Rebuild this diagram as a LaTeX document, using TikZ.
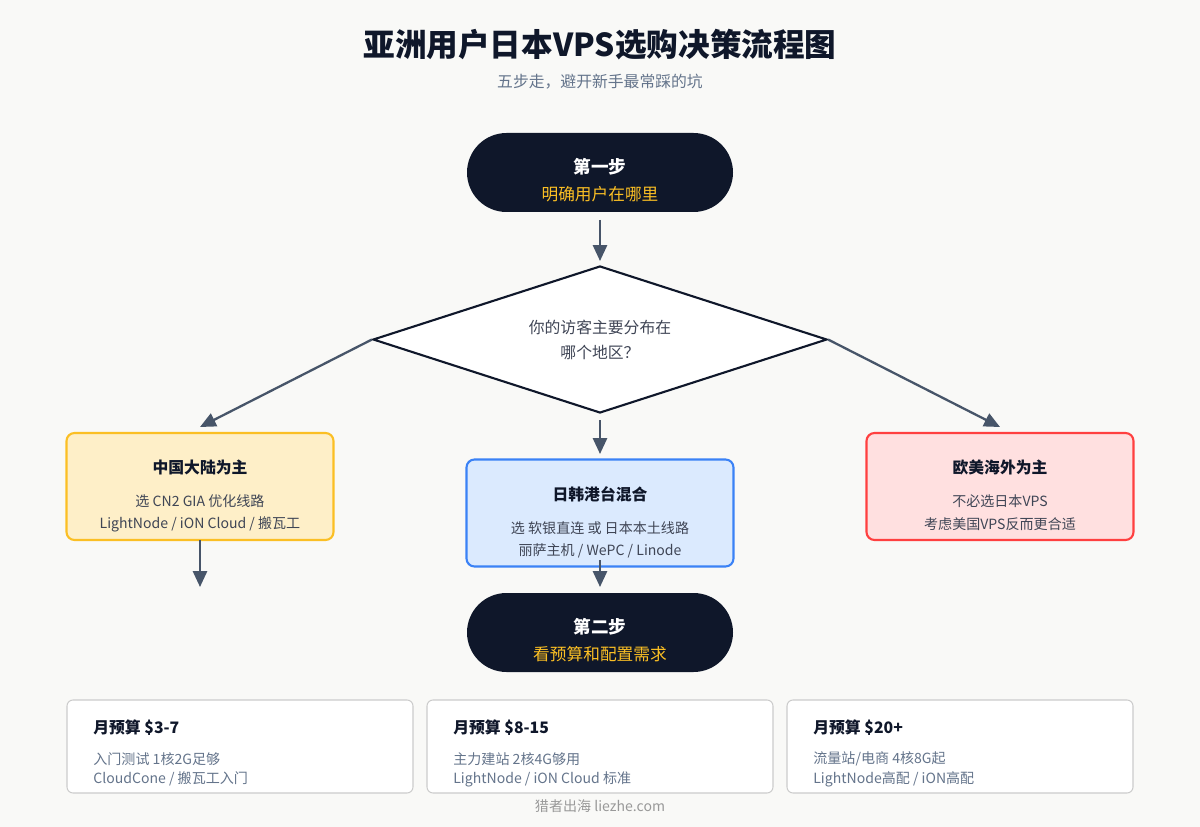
\documentclass[tikz,border=0pt]{standalone}
\usepackage{fontspec}
\setmainfont{Noto Sans CJK SC}
\usetikzlibrary{positioning, calc}
\usetikzlibrary{arrows.meta}
\usetikzlibrary{shapes}
\definecolor{navy}{HTML}{0F172A}
\definecolor{slate}{HTML}{475569}
\definecolor{muted}{HTML}{64748B}
\definecolor{amber}{HTML}{FBBF24}
\definecolor{skyfill}{HTML}{DBEAFE}
\definecolor{skyline}{HTML}{3B82F6}
\definecolor{bgpaper}{HTML}{F9F9F7}
\begin{document}
\begin{tikzpicture}[x=0.02cm,y=-0.02cm]
	\tikzstyle{pill}=[rounded corners=39.5*0.02cm,fill=navy,minimum width=266*0.02cm,minimum height=79*0.02cm]
	\tikzstyle{box}=[rounded corners=8*0.02cm,line width=1.2pt,minimum width=267*0.02cm,minimum height=107*0.02cm]
	\tikzstyle{card}=[rounded corners=6*0.02cm,draw=black!20,fill=white,line width=0.6pt,minimum width=346*0.02cm,minimum height=93*0.02cm]
	\tikzstyle{flow}=[-{Triangle[length=9pt,width=8pt]},draw=slate,line width=1.3pt]
	\tikzstyle{txt}=[font=\fontsize{8}{10}\selectfont,text=navy!80]
	\tikzstyle{hd}=[font=\fontsize{9}{11}\selectfont\bfseries,text=navy]
	\tikzstyle{sub}=[font=\fontsize{8}{10}\selectfont,text=muted,anchor=west,inner sep=0pt]

	\fill[bgpaper] (0,0) rectangle (1200,827);

	% title
	\node[font=\fontsize{18}{22}\selectfont\bfseries,text=navy] (title) at (600,45) {亚洲用户日本VPS选购决策流程图};
	\node[font=\fontsize{9}{11}\selectfont,text=muted] (subtitle) at (600,82) {五步走，避开新手最常踩的坑};

	% step one
	\node[pill] (s1) at (600,172.5) {};
	\node[hd,text=white,font=\fontsize{10}{12}\selectfont\bfseries] (s1a) at (600,167) {第一步};
	\node[txt,text=amber,font=\fontsize{9.5}{12}\selectfont] (s1b) at (600,194) {明确用户在哪里};

	% question
	\node[diamond,draw=navy,fill=white,line width=1.2pt,minimum width=454*0.02cm,minimum height=147*0.02cm,inner sep=0pt] (q) at (600,339.5) {};
	\node[txt,align=center,font=\fontsize{9}{14}\selectfont] (qt) at (600,340) {你的访客主要分布在\\哪个地区？};

	% regions
	\node[box,draw=amber,fill=amber!25] (cn) at (200,486.5) {};
	\node[hd] (cna) at (200,467) {中国大陆为主};
	\node[txt] (cnb) at (200,501) {选 CN2 GIA 优化线路};
	\node[txt] (cnc) at (200,524) {LightNode / iON Cloud / 搬瓦工};

	\node[box,draw=skyline,fill=skyfill] (jp) at (600,513) {};
	\node[hd] (jpa) at (600,494) {日韩港台混合};
	\node[txt] (jpb) at (600,528) {选 软银直连 或 日本本土线路};
	\node[txt] (jpc) at (600,551) {丽萨主机 / WePC / Linode};

	\node[box,draw=red!75,fill=red!12] (eu) at (1000,486.5) {};
	\node[hd] (eua) at (1000,467) {欧美海外为主};
	\node[txt] (eub) at (1000,501) {不必选日本VPS};
	\node[txt] (euc) at (1000,524) {考虑美国VPS反而更合适};

	% step two
	\node[pill] (s2) at (600,632.5) {};
	\node[hd,text=white,font=\fontsize{10}{12}\selectfont\bfseries] (s2a) at (600,627) {第二步};
	\node[txt,text=amber,font=\fontsize{9.5}{12}\selectfont] (s2b) at (600,654) {看预算和配置需求};

	% budgets
	\node[card] (b1) at (240,746.5) {};
	\node[hd,anchor=west,inner sep=0pt] (b1a) at (93,728) {月预算 \$3-7};
	\node[sub] (b1b) at (93,759) {入门测试 1核2G足够};
	\node[sub] (b1c) at (93,779) {CloudCone / 搬瓦工入门};
	\node[card] (b2) at (600,746.5) {};
	\node[hd,anchor=west,inner sep=0pt] (b2a) at (453,728) {月预算 \$8-15};
	\node[sub] (b2b) at (453,759) {主力建站 2核4G够用};
	\node[sub] (b2c) at (453,779) {LightNode / iON Cloud 标准};
	\node[card] (b3) at (960,746.5) {};
	\node[hd,anchor=west,inner sep=0pt] (b3a) at (813,728) {月预算 \$20+};
	\node[sub] (b3b) at (813,759) {流量站/电商 4核8G起};
	\node[sub] (b3c) at (813,779) {LightNode高配 / iON高配};

	\node[font=\fontsize{8}{10}\selectfont,text=black!40] (foot) at (600,806) {猎者出海 liezhe.com};

	% connectors
	\coordinate (s1out) at (600,220);
	\coordinate (qin) at (600,261);
	\coordinate (qout) at (600,420);
	\coordinate (jpin) at (600,454);
	\coordinate (cnin) at (200,427);
	\coordinate (euin) at (1000,427);
	\coordinate (cnout) at (200,540);
	\coordinate (cnend) at (200,587);
	\coordinate (jpout) at (600,560);
	\coordinate (jpend) at (600,587);
	\draw[flow] (s1out) -- (qin);
	\draw[flow] (q.west) -- (cnin);
	\draw[flow] (q.east) -- (euin);
	\draw[flow] (qout) -- (jpin);
	\draw[flow] (cnout) -- (cnend);
	\draw[flow] (jpout) -- (jpend);
\end{tikzpicture}
\end{document}
